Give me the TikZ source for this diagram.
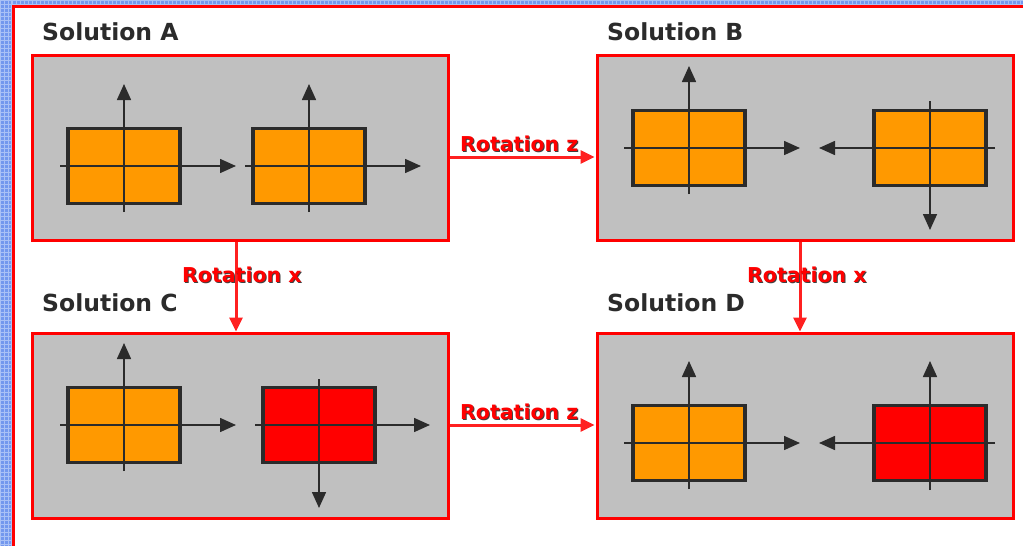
\documentclass[tikz,border=0pt]{standalone}
\usepackage{fontspec}
\setmainfont{DejaVu Sans}
\usetikzlibrary{arrows.meta,calc}

\definecolor{panelgray}{HTML}{C0C0C0}
\definecolor{boxorange}{HTML}{FF9900}
\definecolor{framered}{HTML}{FF0000}
\definecolor{arrowred}{HTML}{FF2020}
\definecolor{axisdark}{HTML}{2B2B2B}
\definecolor{gridblue}{HTML}{7398EE}
\definecolor{gridlight}{HTML}{A9C1F6}

\tikzset{
  panel/.style={draw=framered, line width=3pt, fill=panelgray, minimum width=416pt, minimum height=185pt, inner sep=0pt},
  obox/.style={draw=axisdark, line width=3.2pt, fill=boxorange, minimum width=112pt, minimum height=75pt, inner sep=0pt},
  rbox/.style={obox, fill=framered},
  axarrow/.style={draw=axisdark, line width=1.6pt, -{Triangle[length=16pt,width=14pt]}},
  rotarrow/.style={draw=arrowred, line width=3pt, -{Triangle[length=14pt,width=13pt]}},
  title/.style={font=\bfseries\fontsize{23.5}{26}\selectfont, text=axisdark, anchor=base west, inner sep=0pt},
  rotlabel/.style={font=\bfseries\fontsize{20.5}{23}\selectfont, text=framered, anchor=base west, inner sep=0pt},
  rotshadow/.style={rotlabel, text=black!75}
}

\begin{document}
\begin{tikzpicture}[x=1pt, y=-1pt]
    \useasboundingbox (0,0) rectangle (1023,546);

    % blue grid at the border
    \fill[white] (0,0) rectangle (1023,546);
    \fill[gridblue] (0,0) rectangle (12,546);
    \fill[gridblue] (0,0) rectangle (1023,6);
    \draw[gridlight, line width=1pt] (0,0) grid[step=4pt] (12,546);
    \draw[gridlight, line width=1pt] (12,0) grid[step=4pt] (1023,6);
    \draw[framered, line width=3pt] (13.5,546) -- (13.5,6.5) -- (1023,6.5);

    % panels
    \node[panel] (A) at (240,147.5) {};
    \node[panel] (B) at (805,147.5) {};
    \node[panel] (C) at (240,425.5) {};
    \node[panel] (D) at (805,425.5) {};

    % titles
    \node[title] (tA) at (42,40) {Solution A};
    \node[title] (tB) at (607,40) {Solution B};
    \node[title] (tC) at (42,311) {Solution C};
    \node[title] (tD) at (607,311) {Solution D};

    % boxes
    \node[obox] (a1) at (124,166) {};
    \node[obox] (a2) at (309,166) {};
    \node[obox] (b1) at (689,148) {};
    \node[obox] (b2) at (930,148) {};
    \node[obox] (c1) at (124,425) {};
    \node[rbox] (c2) at (319,425) {};
    \node[obox] (d1) at (689,443) {};
    \node[rbox] (d2) at (930,443) {};

    % axes
    \draw[axarrow] ($(a1)+(-64,0)$) -- ($(a1)+(112,0)$);
    \draw[axarrow] ($(a1)+(0,46)$) -- ($(a1)+(0,-82)$);
    \draw[axarrow] ($(a2)+(-64,0)$) -- ($(a2)+(112,0)$);
    \draw[axarrow] ($(a2)+(0,46)$) -- ($(a2)+(0,-82)$);

    \draw[axarrow] ($(b1)+(-65,0)$) -- ($(b1)+(111,0)$);
    \draw[axarrow] ($(b1)+(0,46)$) -- ($(b1)+(0,-82)$);
    \draw[axarrow] ($(b2)+(65,0)$) -- ($(b2)+(-111,0)$);
    \draw[axarrow] ($(b2)+(0,-47)$) -- ($(b2)+(0,82)$);

    \draw[axarrow] ($(c1)+(-64,0)$) -- ($(c1)+(112,0)$);
    \draw[axarrow] ($(c1)+(0,46)$) -- ($(c1)+(0,-82)$);
    \draw[axarrow] ($(c2)+(-64,0)$) -- ($(c2)+(111,0)$);
    \draw[axarrow] ($(c2)+(0,-46)$) -- ($(c2)+(0,83)$);

    \draw[axarrow] ($(d1)+(-65,0)$) -- ($(d1)+(111,0)$);
    \draw[axarrow] ($(d1)+(0,46)$) -- ($(d1)+(0,-82)$);
    \draw[axarrow] ($(d2)+(65,0)$) -- ($(d2)+(-111,0)$);
    \draw[axarrow] ($(d2)+(0,47)$) -- ($(d2)+(0,-82)$);

    % rotations
    \draw[rotarrow] ([yshift=-9.5pt]A.east) -- ([yshift=-9.5pt,xshift=-1pt]B.west);
    \draw[rotarrow] ([yshift=0.5pt]C.east) -- ([yshift=0.5pt,xshift=-1pt]D.west);
    \draw[rotarrow] ([xshift=-4pt]A.south) -- ([xshift=-4pt]C.north);
    \draw[rotarrow] ([xshift=-5pt]B.south) -- ([xshift=-5pt]D.north);

    \node[rotshadow] (rz1s) at (461,152) {Rotation z};
    \node[rotlabel] (rz1) at (460,151) {Rotation z};
    \node[rotshadow] (rz2s) at (461,420) {Rotation z};
    \node[rotlabel] (rz2) at (460,419) {Rotation z};
    \node[rotshadow] (rx1s) at (183,283) {Rotation x};
    \node[rotlabel] (rx1) at (182,282) {Rotation x};
    \node[rotshadow] (rx2s) at (748,283) {Rotation x};
    \node[rotlabel] (rx2) at (747,282) {Rotation x};

\end{tikzpicture}
\end{document}
